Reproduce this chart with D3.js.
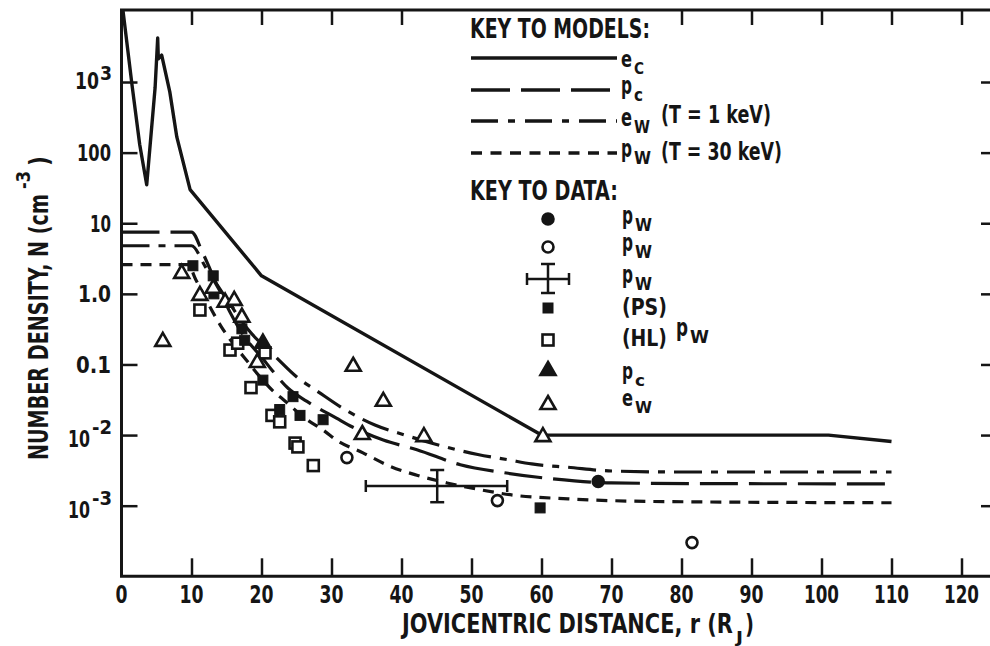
<!DOCTYPE html>
<html><head><meta charset="utf-8">
<script src="https://cdn.jsdelivr.net/npm/d3@7"></script>
<style>
html,body{margin:0;padding:0;background:#fff;}
svg{display:block;}
text{font-family:"DejaVu Sans Condensed","Liberation Sans Narrow","DejaVu Sans",sans-serif;font-weight:bold;fill:#151515;}
</style></head><body>
<svg id="c" width="990" height="646"></svg>
<script>
// ---------- data ----------
const xTicks = [0,10,20,30,40,50,60,70,80,90,100,110,120];
const yTicks = [1e3,100,10,1,0.1,1e-2,1e-3];
const yTickLabels = [["10","3"],["100"],["10"],["1.0"],["0.1"],["10","-2"],["10","-3"]];

// model curves  (r in R_J, N in cm^-3)
const ecR = [0.2,1.5,2.6,3.6,4.8,5.17,5.26,5.74,6.9,7.9,9.8,20,60,101,110];
const ecN = [10500,910,130,35,830,4200,2130,2400,725,167,30,1.8,0.01,0.01,0.0081];
const pcR = [0,10,11.6,14,17.4,20.1,21.5,23.8,26.5,30.7,33,37.4,42.2,48.4,55,61.6,70,85,110];
const pcN = [7.5,7.5,3.8,1.1,0.26,0.124,0.083,0.046,0.030,0.0174,0.0130,0.0085,0.0062,0.0038,0.0029,0.0024,0.0021,0.00205,0.00204];
const ewR = [0,10,12,15,18,22.2,25,28.1,31.9,36.2,40.5,44.1,47.9,50.9,55.1,58.6,63.8,70,80,110];
const ewN = [4.8,4.8,2.4,0.85,0.32,0.123,0.067,0.041,0.023,0.0139,0.0100,0.0078,0.0062,0.0053,0.0045,0.0039,0.0035,0.0031,0.0030,0.0030];
const pwR = [0,9.5,10.6,14.2,18,21.9,23.1,26,29.1,30.7,34.5,38.4,42.2,46.5,51,56.2,63.8,75,110];
const pwN = [2.6,2.6,1.6,0.35,0.11,0.04,0.032,0.018,0.0112,0.0085,0.0056,0.0036,0.0027,0.0021,0.0017,0.0014,0.00125,0.00115,0.0011];

// data points
const ewDataR = [5.9,8.6,11.2,13.1,14.8,16.1,17.2,19.4,33.1,37.4,34.4,43.2,60.2];
const ewDataN = [0.223,2.05,1.0,1.26,0.80,0.85,0.49,0.112,0.099,0.0316,0.0107,0.0100,0.0100];
const pcDataR = [20.2];
const pcDataN = [0.21];
const hlR = [11.2,15.5,16.6,20.5,18.5,21.5,22.6,24.8,25.2,27.4];
const hlN = [0.59,0.16,0.20,0.146,0.047,0.019,0.0154,0.0077,0.0068,0.0037];
const psR = [10.2,13.1,13.2,17.2,17.6,20.2,22.6,24.5,25.5,28.8,59.8];
const psN = [2.5,1.8,1.0,0.32,0.22,0.06,0.023,0.035,0.019,0.0165,0.00093];
const openCircR = [32.2,53.7,81.5];
const openCircN = [0.0048,0.00118,0.00030];
const filledCircR = [68.1];
const filledCircN = [0.0022];
const errR = [45.1], errN = [0.0019], errRlo = [34.9], errRhi = [55.1], errNlo = [0.00112], errNhi = [0.0032];

// ---------- drawing ----------
const svg = d3.select("#c");
const INK = "#151515";
const L = 121.5, R = 992, T = 10, B = 576.3;
const x = d3.scaleLinear().domain([0,120]).range([121.5, 961.5]);
const y = d3.scaleLog().domain([1e-4,1e4]).range([576.3, 11.4]);

svg.append("defs").append("clipPath").attr("id","clip")
  .append("rect").attr("x",L).attr("y",T).attr("width",R-L).attr("height",B-T);

// text compressed horizontally to a target width (condensed look of the original lettering)
function txt(g, px, py, s, size, len, anchor){
  const t = g.append("text").attr("x",0).attr("y",0).attr("font-size",size).text(s);
  if(anchor) t.attr("text-anchor",anchor);
  const w = t.node().getComputedTextLength() || len;
  const k = len ? len / w : 1;
  t.attr("transform",`translate(${px},${py}) scale(${k.toFixed(4)},1)`);
  return t;
}
function sub(g, px, py, a, b, size, wa, wb){
  txt(g, px, py, a, size, wa);
  txt(g, px+wa+2, py+7, b, size*0.68, wb);
}

// frame
const frame = svg.append("g").attr("stroke",INK).attr("fill","none");
frame.append("path").attr("d",`M${R},${T}H${L}V${B}H${R}`).attr("stroke-width",3);
frame.append("line").attr("x1",R).attr("x2",R).attr("y1",T).attr("y2",B).attr("stroke-width",3);

// bottom axis (ticks pointing up)
const xb = svg.append("g").attr("transform",`translate(0,${B})`)
  .call(d3.axisBottom(x).tickValues(xTicks.filter(v=>v>0)).tickSizeInner(-18).tickSizeOuter(0).tickFormat(""));
xb.select(".domain").remove();
xb.selectAll(".tick line").attr("stroke",INK).attr("stroke-width",2.5);
// top axis (ticks pointing down), hidden behind legend for 50–70
const xt = svg.append("g").attr("transform",`translate(0,${T})`)
  .call(d3.axisTop(x).tickValues(xTicks.filter(v=>v>0 && (v<50||v>70))).tickSizeInner(-15).tickSizeOuter(0).tickFormat(""));
xt.select(".domain").remove();
xt.selectAll(".tick line").attr("stroke",INK).attr("stroke-width",2.5);
// left axis ticks pointing right
const yl = svg.append("g").attr("transform",`translate(${L},0)`)
  .call(d3.axisLeft(y).tickValues(yTicks).tickSizeInner(-16).tickSizeOuter(0).tickFormat(""));
yl.select(".domain").remove();
yl.selectAll(".tick line").attr("stroke",INK).attr("stroke-width",2.5);
// right axis ticks pointing left
const yr = svg.append("g").attr("transform",`translate(${R},0)`)
  .call(d3.axisRight(y).tickValues(yTicks).tickSizeInner(-11).tickSizeOuter(0).tickFormat(""));
yr.select(".domain").remove();
yr.selectAll(".tick line").attr("stroke",INK).attr("stroke-width",2.5);

// x tick labels
const gx = svg.append("g");
xTicks.forEach(v=>{
  const s = String(v);
  txt(gx, x(v), 603, s, 24, s.length===1?12:(s.length===2?24:35), "middle");
});
// y tick labels
const gy = svg.append("g");
yTicks.forEach((v,i)=>{
  const lab = yTickLabels[i], ty = y(v);
  if(lab.length===1){
    const w = {"100":34,"10":21,"1.0":33,"0.1":35}[lab[0]];
    txt(gy, 111, ty+8.5, lab[0], 23, w, "end");
  } else if(!lab[1].startsWith("-")){
    txt(gy, 75, ty+7, lab[0], 23, 24);
    txt(gy, 100, ty-2, lab[1], 20, 12);
  } else {
    txt(gy, 68, ty+12, lab[0], 23, 22);
    txt(gy, 92, ty-1, lab[1], 20, 20);
  }
});

// axis titles
const yt = svg.append("g").attr("transform","translate(48,460) rotate(-90)");
txt(yt, 0, 0, "NUMBER DENSITY, N (cm", 27, 266);
txt(yt, 271, -18, "-3", 19, 18);
txt(yt, 294, 0, ")", 27, 10);
const xtl = svg.append("g");
txt(xtl, 402, 633, "JOVICENTRIC DISTANCE, r (R", 27, 331);
txt(xtl, 736, 643, "J", 16, 7);
txt(xtl, 745, 633, ")", 27, 9);

// model curves
const plot = svg.append("g").attr("clip-path","url(#clip)");
const zip = (a,b)=>a.map((v,i)=>[v,b[i]]);
const lineLin = d3.line().x(d=>x(d[0])).y(d=>y(d[1]));
const lineSm = d3.line().x(d=>x(d[0])).y(d=>y(d[1])).curve(d3.curveMonotoneX);
const models = [
  {r:ecR,n:ecN,dash:null,w:3.4,gen:lineLin},
  {r:pcR,n:pcN,dash:"38,11",w:3.2,gen:lineSm},
  {r:ewR,n:ewN,dash:"28,9,7,9",w:3.2,gen:lineSm},
  {r:pwR,n:pwN,dash:"11,8",w:3.2,gen:lineSm}
];
models.forEach(m=>{
  plot.append("path").attr("d",m.gen(zip(m.r,m.n))).attr("fill","none")
    .attr("stroke",INK).attr("stroke-width",m.w).attr("stroke-dasharray",m.dash)
    .attr("stroke-linejoin","round");
});

// markers
const tri = (cx,cy)=>`M${cx},${cy-7}L${cx+7.5},${cy+6}L${cx-7.5},${cy+6}Z`;
const mk = svg.append("g");
function drawTri(g,cx,cy,filled){
  g.append("path").attr("d",tri(cx,cy)).attr("fill",filled?INK:"#fff").attr("stroke",INK).attr("stroke-width",2.6).attr("stroke-linejoin","miter");
}
function drawSq(g,cx,cy,filled){
  const s = filled?10:11;
  g.append("rect").attr("x",cx-s/2).attr("y",cy-s/2).attr("width",s).attr("height",s)
   .attr("fill",filled?INK:"#fff").attr("stroke",INK).attr("stroke-width",filled?1:2.6);
}
function drawCirc(g,cx,cy,filled){
  g.append("circle").attr("cx",cx).attr("cy",cy).attr("r",5.5)
   .attr("fill",filled?INK:"#fff").attr("stroke",INK).attr("stroke-width",2.6);
}
hlR.forEach((r,i)=>drawSq(mk,x(r),y(hlN[i]),false));
psR.forEach((r,i)=>drawSq(mk,x(r),y(psN[i]),true));
ewDataR.forEach((r,i)=>drawTri(mk,x(r),y(ewDataN[i]),false));
pcDataR.forEach((r,i)=>drawTri(mk,x(r),y(pcDataN[i]),true));
openCircR.forEach((r,i)=>drawCirc(mk,x(r),y(openCircN[i]),false));
filledCircR.forEach((r,i)=>drawCirc(mk,x(r),y(filledCircN[i]),true));
function drawErr(g,x1,x2,cx,cy,y1,y2){
  const e = g.append("g").attr("stroke",INK).attr("stroke-width",2.5).attr("fill","none");
  e.append("line").attr("x1",x1).attr("x2",x2).attr("y1",cy).attr("y2",cy);
  e.append("line").attr("x1",x1).attr("x2",x1).attr("y1",cy-6).attr("y2",cy+6);
  e.append("line").attr("x1",x2).attr("x2",x2).attr("y1",cy-6).attr("y2",cy+6);
  e.append("line").attr("x1",cx).attr("x2",cx).attr("y1",y1).attr("y2",y2);
  e.append("line").attr("x1",cx-7).attr("x2",cx+7).attr("y1",y1).attr("y2",y1);
  e.append("line").attr("x1",cx-7).attr("x2",cx+7).attr("y1",y2).attr("y2",y2);
}
errR.forEach((r,i)=>drawErr(mk,x(errRlo[i]),x(errRhi[i]),x(r),y(errN[i]),y(errNhi[i]),y(errNlo[i])));

// ---------- legend ----------
const lg = svg.append("g");
txt(lg, 470, 38, "KEY TO MODELS:", 26, 180);
const lx1 = 471, lx2 = 617;
const legLines = [{yy:58,dash:null},{yy:90,dash:"39,11"},{yy:121,dash:"27,10,7,10"},{yy:153,dash:"11,8.5"}];
legLines.forEach(l=>{
  lg.append("line").attr("x1",lx1).attr("x2",lx2).attr("y1",l.yy).attr("y2",l.yy)
    .attr("stroke",INK).attr("stroke-width",3.4).attr("stroke-dasharray",l.dash);
});
sub(lg, 621, 67, "e", "C", 23.5, 11, 10);
sub(lg, 621, 94, "p", "c", 25, 11, 9);
sub(lg, 621, 126, "e", "W", 25, 11, 16);
txt(lg, 661, 123, "(T = 1 keV)", 24, 110);
sub(lg, 621, 157, "p", "W", 25, 11, 17);
txt(lg, 661, 160, "(T = 30 keV)", 24, 121);
txt(lg, 470, 200, "KEY TO DATA:", 27, 148);

const sx = 548;
drawCirc(lg, sx, 219, true);
drawCirc(lg, sx, 247, false);
drawErr(lg, 527, 569, sx, 279, 264, 293);
drawSq(lg, sx, 308, true);
drawSq(lg, sx, 340, false);
drawTri(lg, sx, 369, true);
drawTri(lg, sx, 403, false);
sub(lg, 622, 224, "p", "W", 25, 11, 17);
sub(lg, 622, 251, "p", "W", 25, 11, 17);
sub(lg, 622, 283, "p", "W", 25, 11, 17);
txt(lg, 622, 315, "(PS)", 23, 45);
txt(lg, 622, 346, "(HL)", 23, 45);
sub(lg, 676, 336, "p", "W", 25, 12, 19);
sub(lg, 622, 379, "p", "c", 23, 11, 10);
sub(lg, 622, 406, "e", "W", 23, 11, 17);
</script>
</body></html>
